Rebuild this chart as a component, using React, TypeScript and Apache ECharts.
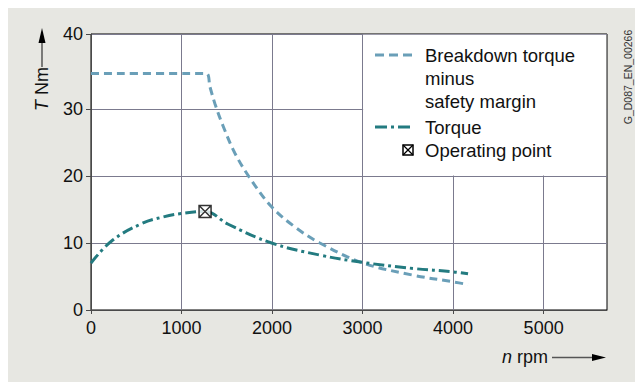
import React, { useEffect, useRef } from "react";
import * as echarts from "echarts";

// Breakdown torque minus safety margin (rpm, Nm)
const breakdownRpm = [0, 1270, 1314, 1369, 1461, 1590, 1755, 1995, 2252, 2528, 3006, 3558, 4000, 4165];
const breakdownNm = [35.3, 35.3, 33.3, 30.8, 27.4, 23.4, 19.7, 15.4, 12.4, 10.0, 7.0, 5.2, 4.2, 3.8];

// Torque (rpm, Nm)
const torqueRpm = [0, 228, 560, 800, 1000, 1260, 1516, 1995, 2528, 3006, 3558, 4000, 4165];
const torqueNm = [7.0, 10.3, 12.9, 13.9, 14.4, 14.7, 12.8, 10.0, 8.2, 7.1, 6.2, 5.7, 5.4];

// Operating point
const operatingPoint = [1260, 14.7];

const xTicks = [0, 1000, 2000, 3000, 4000, 5000];
const yTicks = [0, 10, 20, 30, 41.2];
const xMax = 5700;
const yMax = 41.2;

const legendNames = ["Breakdown torque\nminus\nsafety margin", "Torque", "Operating point"];

const FONT = "'Liberation Sans', Arial, Helvetica, sans-serif";
const BREAK_COLOR = "#6a9fb8";
const TORQUE_COLOR = "#237b80";
const GRID_COLOR = "#7b7a8e";
const AXIS_COLOR = "#4a4a4a";
const BOX_SYMBOL = "path://M0 0H10V10H0ZM0 0L10 10M10 0L0 10";

export default function App() {
  const ref = useRef<HTMLDivElement>(null);

  useEffect(() => {
    if (!ref.current) return;
    const chart = echarts.init(ref.current, null, { renderer: "svg" });

    const Z = 100;
    const LF = 18.5;
    const option: any = {
      animation: false,
      backgroundColor: "#e7e7e2",
      textStyle: { fontFamily: FONT },
      grid: {
        left: 83,
        top: 26,
        right: 36,
        bottom: 72,
        show: true,
        backgroundColor: "#ffffff",
        borderColor: "#000000",
        borderWidth: 1,
      },
      xAxis: {
        type: "value",
        min: 0,
        max: xMax,
        interval: 1000,
        axisLine: { show: true, lineStyle: { color: AXIS_COLOR, width: 1 } },
        axisTick: { show: true, length: 4, customValues: xTicks, lineStyle: { color: AXIS_COLOR } },
        axisLabel: {
          customValues: xTicks,
          margin: 9,
          fontSize: 18,
          color: "#111",
          fontFamily: FONT,
          formatter: (v: number) => String(v),
        },
        splitLine: { show: true, lineStyle: { color: GRID_COLOR, width: 1 } },
      },
      yAxis: {
        type: "value",
        min: 0,
        max: yMax,
        axisLine: { show: true, lineStyle: { color: AXIS_COLOR, width: 1 } },
        axisTick: { show: true, length: 5, customValues: yTicks, lineStyle: { color: AXIS_COLOR } },
        axisLabel: {
          customValues: yTicks,
          margin: 8,
          fontSize: 18,
          color: "#111",
          fontFamily: FONT,
          formatter: (v: number) => (v > 40 ? "40" : String(v)),
        },
        splitLine: { show: true, lineStyle: { color: GRID_COLOR, width: 1 } },
      },
      series: [
        {
          name: legendNames[0],
          type: "line",
          data: breakdownRpm.map((x, i) => [x, breakdownNm[i]]),
          showSymbol: false,
          smooth: 0.35,
          lineStyle: { color: BREAK_COLOR, width: 3, type: [8, 5] },
          z: 3,
          markArea: {
            silent: true,
            itemStyle: { color: "#ffffff", opacity: 1 },
            data: [[{ xAxis: 3006, yAxis: 20.08 }, { xAxis: xMax - 10, yAxis: yMax - 0.1 }]],
          },
        },
        {
          name: legendNames[1],
          type: "line",
          data: torqueRpm.map((x, i) => [x, torqueNm[i]]),
          showSymbol: false,
          smooth: 0.4,
          lineStyle: { color: TORQUE_COLOR, width: 3, type: [11, 4, 3, 4] },
          z: 4,
        },
        {
          name: legendNames[2],
          type: "scatter",
          data: [operatingPoint],
          symbol: BOX_SYMBOL,
          symbolSize: 12,
          itemStyle: { color: "#ffffff", borderColor: "#000000", borderWidth: 1.5 },
          z: 5,
        },
      ],
      graphic: [
        // y-axis title with arrow
        {
          type: "text",
          z: Z,
          x: 34,
          y: 81,
          rotation: Math.PI / 2,
          style: {
            text: "{i|T} Nm",
            fontSize: 18,
            fontFamily: FONT,
            fill: "#111",
            align: "center",
            verticalAlign: "middle",
            rich: { i: { fontStyle: "italic", fontSize: 18, fontFamily: FONT } },
          },
        },
        { type: "line", z: Z, shape: { x1: 34, y1: 59, x2: 34, y2: 34 }, style: { stroke: "#333", lineWidth: 1.2 } },
        { type: "polygon", z: Z, shape: { points: [[34, 20], [30.5, 35], [37.5, 35]] }, style: { fill: "#000" } },
        // x-axis title with arrow
        {
          type: "text",
          z: Z,
          x: 540,
          y: 349,
          style: {
            text: "{i|n} rpm",
            fontSize: 18,
            fontFamily: FONT,
            fill: "#111",
            align: "right",
            verticalAlign: "middle",
            rich: { i: { fontStyle: "italic", fontSize: 18, fontFamily: FONT } },
          },
        },
        { type: "line", z: Z, shape: { x1: 544, y1: 349.5, x2: 586, y2: 349.5 }, style: { stroke: "#555", lineWidth: 1.5 } },
        { type: "polygon", z: Z, shape: { points: [[598, 349.5], [584, 346], [584, 353]] }, style: { fill: "#000" } },
        // drawing code
        {
          type: "text",
          z: Z,
          x: 620,
          y: 69,
          rotation: Math.PI / 2,
          style: {
            text: "G_D087_EN_00266",
            fontSize: 10.5,
            fontFamily: FONT,
            fill: "#333",
            align: "center",
            verticalAlign: "middle",
          },
        },
        // legend
        { type: "line", z: Z, shape: { x1: 367, y1: 47, x2: 405, y2: 47 }, style: { stroke: BREAK_COLOR, lineWidth: 3, lineDash: [9, 5] } },
        {
          type: "text",
          z: Z,
          x: 417,
          y: 35.5,
          style: {
            text: legendNames[0],
            fontSize: LF,
            lineHeight: 23,
            fontFamily: FONT,
            fill: "#111",
            align: "left",
            verticalAlign: "top",
          },
        },
        { type: "line", z: Z, shape: { x1: 367, y1: 119, x2: 405, y2: 119 }, style: { stroke: TORQUE_COLOR, lineWidth: 3, lineDash: [12, 4, 3, 4] } },
        {
          type: "text",
          z: Z,
          x: 417,
          y: 119,
          style: { text: legendNames[1], fontSize: LF, fontFamily: FONT, fill: "#111", align: "left", verticalAlign: "middle" },
        },
        { type: "rect", z: Z, shape: { x: 395, y: 137, width: 10, height: 10 }, style: { fill: "#fff", stroke: "#000", lineWidth: 1.5 } },
        { type: "line", z: Z, shape: { x1: 395, y1: 137, x2: 405, y2: 147 }, style: { stroke: "#000", lineWidth: 1.2 } },
        { type: "line", z: Z, shape: { x1: 405, y1: 137, x2: 395, y2: 147 }, style: { stroke: "#000", lineWidth: 1.2 } },
        {
          type: "text",
          z: Z,
          x: 417,
          y: 142,
          style: { text: legendNames[2], fontSize: LF, fontFamily: FONT, fill: "#111", align: "left", verticalAlign: "middle" },
        },
      ],
    };

    chart.setOption(option);
    return () => chart.dispose();
  }, []);

  return <div ref={ref} style={{ width: 635, height: 374 }} />;
}
